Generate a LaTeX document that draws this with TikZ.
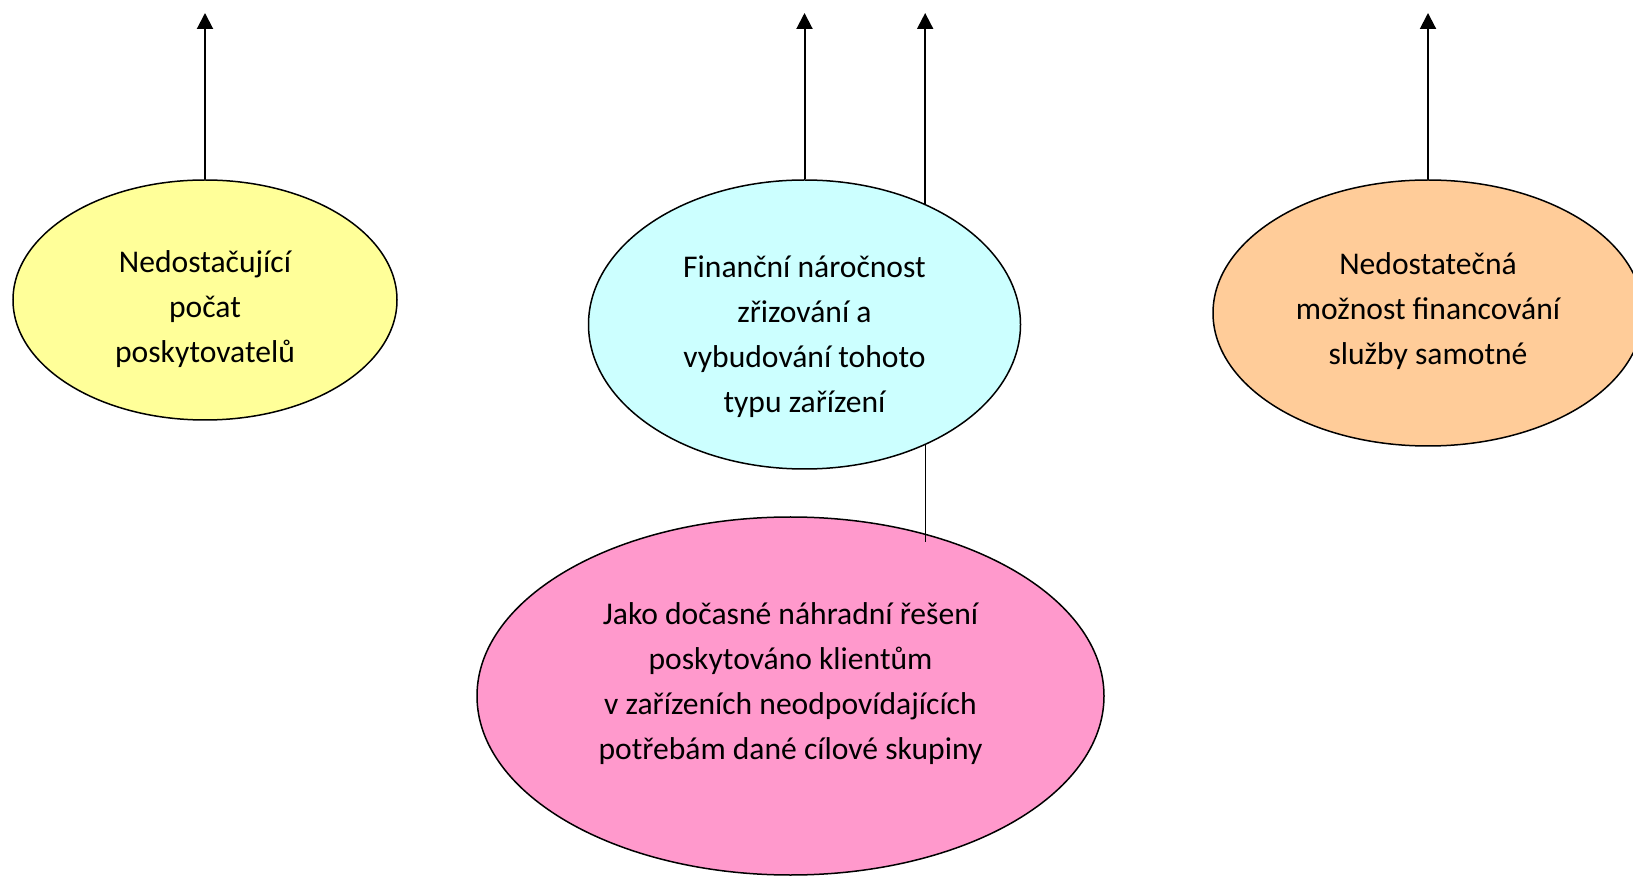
\documentclass[tikz,border=0pt]{standalone}
\usepackage{fontspec}
\setmainfont{Carlito}
\usetikzlibrary{shapes.geometric,arrows.meta}

\definecolor{yellowfill}{HTML}{FFFF99}
\definecolor{cyanfill}{HTML}{CCFFFF}
\definecolor{pinkfill}{HTML}{FF99CC}
\definecolor{orangefill}{HTML}{FFCC99}

\tikzset{
  problem/.style={ellipse,draw,line width=0.75pt,inner sep=0pt,align=center,
    font=\fontsize{15.8}{22.5}\selectfont},
  edge/.style={line width=1pt,-{Triangle[length=8pt,width=8pt]}},
  link/.style={line width=0.6pt}
}

\begin{document}
\begin{tikzpicture}[x=0.5pt,y=-0.5pt]
        \useasboundingbox (0,0) rectangle (1633,876);
        % vertices
        \node[problem,fill=yellowfill,minimum width=192pt,minimum height=120pt,text height=62.9pt,text depth=0pt] (pocet) at (205,300)
          {Nedostačující\\počat\\poskytovatelů};
        \node[problem,fill=cyanfill,minimum width=216pt,minimum height=144.5pt,text height=88.4pt,text depth=0pt] (naklady) at (804.5,324.5)
          {Finanční náročnost\\zřizování a\\vybudování tohoto\\typu zařízení};
        \node[problem,fill=orangefill,minimum width=215pt,minimum height=133pt,text depth=4.5pt] (financovani) at (1428,313)
          {Nedostatečná\\možnost financování\\služby samotné};
        \node[problem,fill=pinkfill,minimum width=313.5pt,minimum height=179pt,text depth=14.8pt] (reseni) at (790.5,696)
          {Jako dočasné náhradní řešení\\poskytováno klientům\\v zařízeních neodpovídajících\\potřebám dané cílové skupiny};
        \coordinate (top) at (0,13);
        \coordinate (tail) at (0,542);
        % edges
        \draw[edge] (pocet.north) -- (pocet.north |- top);
        \draw[edge] (naklady.north) -- (naklady.north |- top);
        \draw[edge] (naklady.45) -- (naklady.45 |- top);
        \draw[edge] (financovani.north) -- (financovani.north |- top);
        \draw[link] (naklady.-45) -- (naklady.-45 |- tail);
      \end{tikzpicture}
\end{document}
